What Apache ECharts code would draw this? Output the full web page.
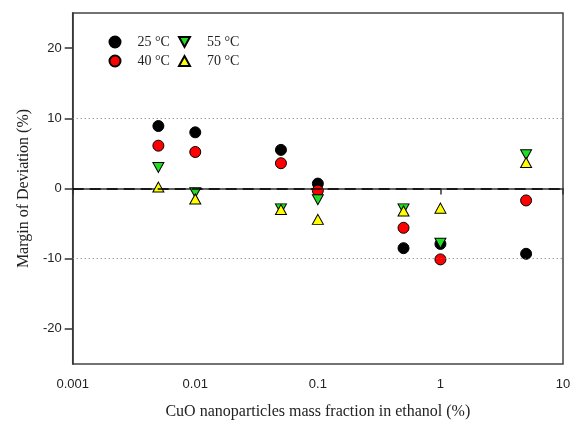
<!DOCTYPE html>
<html><head><meta charset="utf-8">
<script src="https://cdn.jsdelivr.net/npm/echarts@6/dist/echarts.min.js"></script>
<style>html,body{margin:0;padding:0;background:#fff}#c{width:578px;height:422px}</style>
</head><body><div id="c"></div>
<script>
const fractions = [0.005, 0.01, 0.05, 0.1, 0.5, 1, 5];
const dev25 = [8.9, 8.0, 5.5, 0.7, -8.5, -7.9, -9.3];
const dev40 = [6.1, 5.2, 3.6, -0.3, -5.6, -10.1, -1.7];
const dev55 = [3.0, -0.6, -2.9, -1.6, -2.9, -7.8, 4.8];
const dev70 = [0.2, -1.5, -3.0, -4.4, -3.2, -2.8, 3.7];
const seriesNames = ['25 °C', '40 °C', '55 °C', '70 °C'];
const xTicks = [0.001, 0.01, 0.1, 1, 10];
const yTicks = [-20, -10, 0, 10, 20];

const pair = arr => fractions.map((f, i) => [f, arr[i]]);
const mk = (name, data, symbol, color, size) => ({
  name, type: 'scatter', data: pair(data), symbol, symbolSize: size,
  itemStyle: { color, borderColor: '#000', borderWidth: 1, opacity: 1 },
  emphasis: { disabled: true }
});

const s25 = mk(seriesNames[0], dev25, 'circle', '#000000', 11);
const s40 = mk(seriesNames[1], dev40, 'circle', '#ff0000', 11);
const s55 = mk(seriesNames[2], dev55, 'path://M0,0 L10,0 L5,9 Z', '#22dd22', [11, 10]);
const s70 = mk(seriesNames[3], dev70, 'path://M5,0 L10,9 L0,9 Z', '#ffff00', [11, 10]);
s25.markLine = {
  silent: true, symbol: 'none', label: { show: false },
  data: [
    { yAxis: 0, lineStyle: { color: '#000', type: [11, 6], width: 1.5 } },
    { yAxis: 10, lineStyle: { color: '#777', type: [1, 3], width: 1 } },
    { yAxis: -10, lineStyle: { color: '#777', type: [1, 3], width: 1 } }
  ]
};

const legendCommon = {
  orient: 'vertical', itemWidth: 11, itemHeight: 11, itemGap: 5, padding: 0,
  selectedMode: false,
  textStyle: { fontFamily: 'Liberation Serif', fontSize: 14, color: '#222', padding: [0, 0, 0, 12] }
};

const chart = echarts.init(document.getElementById('c'), null, { renderer: 'canvas' });
chart.setOption({
  animation: false,
  grid: { left: 72.7, right: 15, top: 13, bottom: 58, containLabel: false, outerBoundsMode: 'none', show: true, borderColor: '#444', borderWidth: 1.5, backgroundColor: 'transparent' },
  legend: [
    Object.assign({ left: 108.5, top: 35, data: [seriesNames[0], seriesNames[1]] }, legendCommon),
    Object.assign({ left: 178, top: 35, data: [seriesNames[2], seriesNames[3]] }, legendCommon)
  ],
  xAxis: {
    type: 'log', logBase: 10, min: 0.001, max: 10,
    name: 'CuO nanoparticles mass fraction in ethanol (%)',
    nameLocation: 'middle', nameGap: 40,
    nameTextStyle: { fontFamily: 'Liberation Serif', fontSize: 16, color: '#222' },
    axisLine: { lineStyle: { color: '#333', width: 1.5 } },
    axisTick: { show: true, inside: false, length: 6, lineStyle: { color: '#333', width: 1.5 } },
    minorTick: { show: false },
    splitLine: { show: false },
    axisLabel: {
      margin: 14, fontFamily: 'Liberation Sans', fontSize: 13, color: '#222',
      formatter: v => { const t = xTicks.find(k => Math.abs(k - v) / k < 1e-6); return t === undefined ? '' : String(t); }
    }
  },
  yAxis: {
    type: 'value', min: -25, max: 25, interval: 5,
    name: 'Margin of Deviation (%)',
    nameLocation: 'middle', nameGap: 41,
    nameTextStyle: { fontFamily: 'Liberation Serif', fontSize: 16, color: '#222' },
    axisLine: { show: true, lineStyle: { color: '#333', width: 1.5 } },
    axisTick: { show: true, inside: false, length: 8, customValues: yTicks, lineStyle: { color: '#333', width: 1.5 } },
    splitLine: { show: false },
    axisLabel: { margin: 11, customValues: yTicks, fontFamily: 'Liberation Sans', fontSize: 13, color: '#222' }
  },
  series: [s25, s40, s55, s70]
});
</script></body></html>
